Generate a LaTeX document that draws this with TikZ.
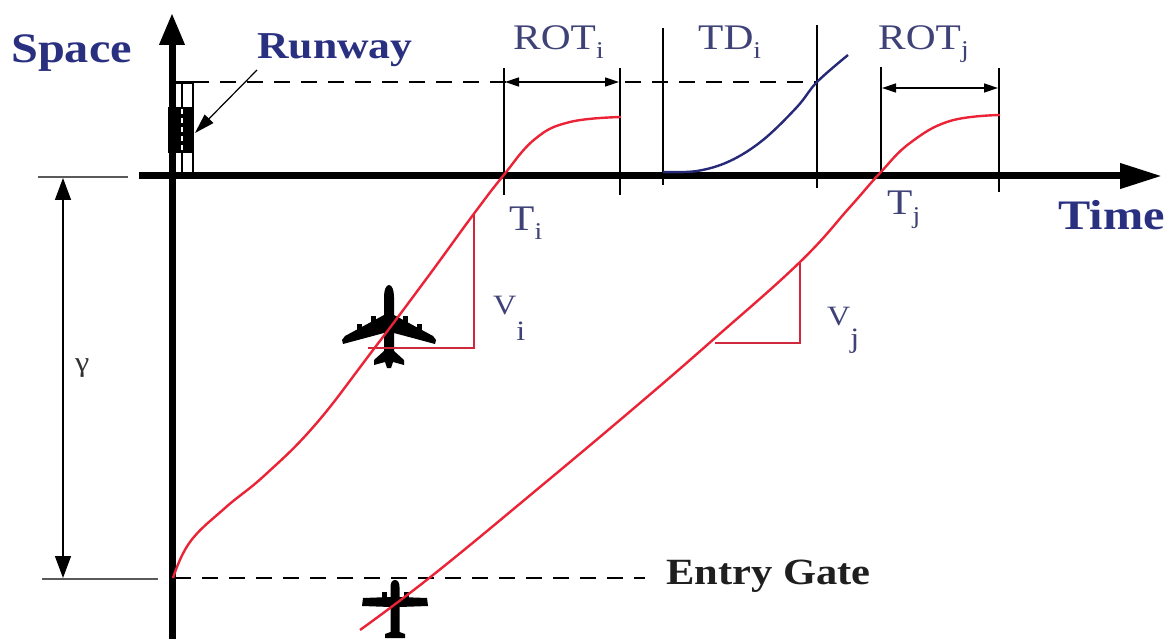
\documentclass[tikz,border=0pt]{standalone}
\usepackage{fontspec}
\setmainfont{Liberation Serif}
\usetikzlibrary{arrows.meta}
\definecolor{navy}{RGB}{42,48,128}
\definecolor{slate}{RGB}{62,66,118}
\definecolor{curvered}{RGB}{235,35,55}
\definecolor{trired}{RGB}{205,40,60}
\definecolor{curveblue}{RGB}{38,40,120}
\definecolor{guide}{RGB}{90,90,90}
\begin{document}
\begin{tikzpicture}[x=1pt,y=-1pt,
  boldlab/.style={font=\bfseries\fontsize{42}{46}\selectfont, text=navy, xscale=1.15, inner sep=0pt, anchor=base west},
  reglab/.style={font=\fontsize{36}{40}\selectfont, text=slate, xscale=1.15, inner sep=0pt, anchor=base west},
  vlab/.style={font=\fontsize{28}{30}\selectfont, text=slate, xscale=1.15, inner sep=0pt, anchor=base west},
  axis/.style={line width=7pt, -{Triangle[length=#1, width=24pt]}},
  thin/.style={line width=1.2pt, black},
  dashline/.style={line width=1.3pt, dash pattern=on 16pt off 11pt},
  redcurve/.style={line width=2.4pt, curvered},
  tri/.style={line width=1.2pt, trired},
  dimarrow/.style={line width=1.4pt, {Triangle[length=14pt,width=9pt]}-{Triangle[length=14pt,width=9pt]}},
  bigplane/.pic={
    \fill[black] (0,-42) .. controls (3,-42) and (5,-37) .. (5,-30) -- (5,-12) -- (44,9) -- (47,13) -- (46,17) -- (5,6) -- (5,24) -- (15,33) -- (15,38) -- (4,35) -- (2,41) -- (-2,41) -- (-4,35) -- (-15,38) -- (-15,33) -- (-5,24) -- (-5,6) -- (-46,17) -- (-47,13) -- (-44,9) -- (-5,-12) -- (-5,-30) .. controls (-5,-37) and (-3,-42) .. (0,-42) -- cycle;
    \fill[black] (13.5,-11) rectangle (18.5,0);
    \fill[black] (-13.5,-11) rectangle (-18.5,0);
    \fill[black] (27.5,-3) rectangle (32.5,7);
    \fill[black] (-27.5,-3) rectangle (-32.5,7);
  },
  smallplane/.pic={
    \fill[black] (0,-27) .. controls (3,-27) and (4.5,-24) .. (4.5,-20) -- (4.5,-10) -- (32,-9) -- (33,-1) -- (4.5,0) -- (4.5,25) -- (10,27) -- (10,31) -- (-10,31) -- (-10,27) -- (-4.5,25) -- (-4.5,0) -- (-33,-1) -- (-32,-9) -- (-4.5,-10) -- (-4.5,-20) .. controls (-4.5,-24) and (-3,-27) .. (0,-27) -- cycle;
    \fill[black] (8.5,-15) rectangle (13.5,-6);
    \fill[black] (-8.5,-15) rectangle (-13.5,-6);
  }
]
\useasboundingbox (0,0) rectangle (1168,639);

% guide lines and gamma dimension
\draw[thin, guide] (38,177) -- (128,177);
\draw[thin, guide] (42,579) -- (158,579);
\draw[line width=1.4pt, {Triangle[length=22pt,width=16pt]}-{Triangle[length=22pt,width=16pt]}] (63,178) -- (63,578);
\node[vlab, text=black!80, anchor=base west] (gamma) at (75,371) {γ};

% dashed levels
\draw[dashline] (193,82) -- (817,82);
\draw[dashline] (175,578) -- (645,578);

% vertical boundary lines
\draw[thin] (504,68) -- (504,195);
\draw[thin] (620,68) -- (620,195);
\draw[thin] (663,28) -- (663,185);
\draw[thin] (817,25) -- (817,188);
\draw[thin] (881,67) -- (881,178);
\draw[thin] (999,68) -- (999,192);

% ROT arrows
\draw[dimarrow] (505,82) -- (619,82);
\draw[dimarrow] (882,88) -- (998,88);

% runway symbol
\fill[black] (168,107) rectangle (193,153);
\draw[thin] (172,83) rectangle (193,176);
\draw[thin] (182,83) -- (182,107);
\draw[thin] (182,153) -- (182,176);
\draw[white, line width=2pt, dash pattern=on 5pt off 4pt] (182,109) -- (182,153);
\draw[line width=3pt] (170,83) -- (193,83);
\coordinate (rwtail) at (257,70);
\coordinate (rwhead) at (195,133);
\draw[thin, -{Triangle[length=20pt,width=12pt]}] (rwtail) -- (rwhead);

% axes
\draw[axis=32pt] (172,639) -- (172,13);
\draw[axis=42pt] (139,176) -- (1162,176);

% airplanes
\pic at (389,327) {bigplane};
\pic at (395,607) {smallplane};

% velocity triangles
\draw[tri] (474,214) -- (474,348) -- (368,348);
\draw[tri] (800,262) -- (800,343) -- (715,343);

% trajectories
\draw[redcurve] plot[smooth, tension=0.7] coordinates {(173,578) (190,542) (225,508) (265,475) (315,425) (370,354) (427,278) (473,215) (503,176) (535,139) (570,122) (621,117)};
\draw[redcurve] plot[smooth, tension=0.7] coordinates {(360,630) (433,575) (540,487) (640,403) (715,338) (800,262) (850,207) (880,173) (910,143) (950,121) (1000,115)};
\draw[line width=2.4pt, curveblue] plot[smooth, tension=0.6] coordinates {(663,172) (697,171) (730,161) (763,140) (797,107) (817,82) (848,55)};

% labels
\node[boldlab] (space) at (11,63) {Space};
\node[boldlab, font=\bfseries\fontsize{38}{42}\selectfont] (runway) at (257,59) {Runway};
\node[boldlab] (time) at (1058,230) {Time};
\node[boldlab, font=\bfseries\fontsize{37}{40}\selectfont, text=black!88] (gate) at (666,584) {Entry Gate};

\node[reglab] (roti) at (513,50) {ROT\raisebox{-9pt}{\fontsize{24}{24}\selectfont i}};
\node[reglab] (tdi) at (698,50) {TD\raisebox{-9pt}{\fontsize{24}{24}\selectfont i}};
\node[reglab] (rotj) at (878,50) {ROT\raisebox{-8pt}{\fontsize{24}{24}\selectfont j}};
\node[reglab] (ti) at (509,231) {T\raisebox{-9pt}{\fontsize{24}{24}\selectfont i}};
\node[reglab] (tj) at (887,215) {T\raisebox{-9pt}{\fontsize{24}{24}\selectfont j}};
\node[vlab] (vi) at (493,315) {V\raisebox{-26pt}{i}};
\node[vlab] (vj) at (827,325) {V\raisebox{-22pt}{j}};
\end{tikzpicture}
\end{document}
